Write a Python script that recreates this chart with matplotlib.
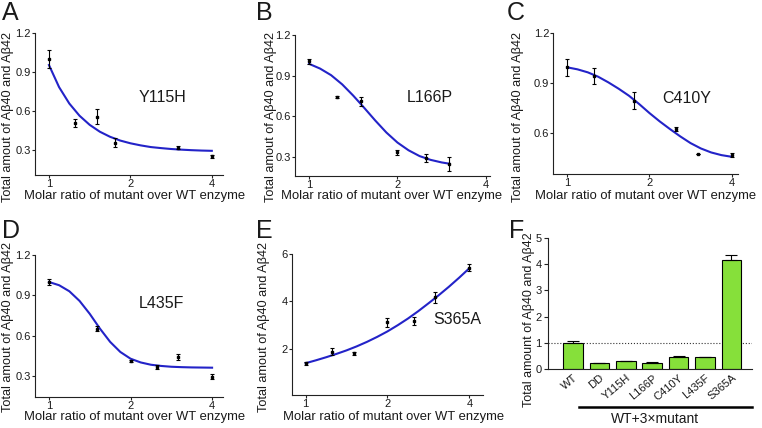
import matplotlib
matplotlib.use("Agg")
import matplotlib.pyplot as plt
from matplotlib.lines import Line2D

plt.rcParams["font.family"] = ["Liberation Sans", "DejaVu Sans"]

W, H = 762, 428

# ── DATA ───────────────────────────────────────────────────
# puntos de la curva ajustada, leídos cada 1/8 de octava (1 ... 4)
fit_x = [1.0, 1.09, 1.189, 1.297, 1.414, 1.542, 1.682, 1.834, 2.0,
         2.181, 2.378, 2.594, 2.828, 3.084, 3.364, 3.668, 4.0]
fit_x_b = [1.0, 1.09, 1.189, 1.297, 1.414, 1.542, 1.682, 1.834, 2.0,
           2.181, 2.378, 2.594, 2.828, 3.0]

ratio_a = [1, 1.25, 1.5, 1.75, 3, 4]
amount_a = [1.00, 0.51, 0.56, 0.36, 0.32, 0.255]
err_a = [0.068, 0.03, 0.057, 0.032, 0.012, 0.012]
fit_y_a = [0.956, 0.786, 0.660, 0.566, 0.496, 0.443, 0.404, 0.375, 0.354,
           0.338, 0.325, 0.317, 0.310, 0.305, 0.301, 0.298, 0.296]

ratio_b = [1, 1.25, 1.5, 2, 2.5, 3]
amount_b = [1.005, 0.743, 0.711, 0.332, 0.290, 0.245]
err_b = [0.02, 0.008, 0.034, 0.017, 0.028, 0.053]
fit_y_b = [0.987, 0.952, 0.903, 0.835, 0.752, 0.661, 0.567, 0.479, 0.405,
           0.348, 0.305, 0.277, 0.258, 0.249]

ratio_c = [1, 1.25, 1.75, 2.5, 3, 4]
amount_c = [0.996, 0.946, 0.796, 0.626, 0.476, 0.47]
err_c = [0.05, 0.047, 0.052, 0.012, 0.0, 0.012]
fit_y_c = [0.996, 0.984, 0.966, 0.940, 0.906, 0.868, 0.826, 0.776, 0.722,
           0.672, 0.626, 0.582, 0.542, 0.510, 0.486, 0.470, 0.460]

ratio_d = [1, 1.5, 2, 2.5, 3, 4]
amount_d = [0.999, 0.652, 0.412, 0.369, 0.441, 0.295]
err_d = [0.02, 0.02, 0.005, 0.015, 0.02, 0.02]
fit_y_d = [0.999, 0.975, 0.930, 0.858, 0.762, 0.652, 0.553, 0.478, 0.428,
           0.400, 0.383, 0.374, 0.368, 0.365, 0.363, 0.362, 0.361]

ratio_e = [1, 1.25, 1.5, 2, 2.5, 3, 4]
amount_e = [1.40, 1.89, 1.82, 3.12, 3.17, 4.17, 5.43]
err_e = [0.06, 0.14, 0.07, 0.19, 0.18, 0.23, 0.13]
fit_y_e = [1.40, 1.52, 1.65, 1.79, 1.94, 2.11, 2.30, 2.51, 2.74,
           3.00, 3.28, 3.59, 3.92, 4.26, 4.62, 5.00, 5.40]

bar_labels = ["WT", "DD", "Y115H", "L166P", "C410Y", "L435F", "S365A"]
bar_values = [1.0, 0.23, 0.295, 0.23, 0.46, 0.435, 4.15]
bar_errors = [0.07, 0.0, 0.015, 0.04, 0.01, 0.015, 0.2]
# ───────────────────────────────────────────────────────────

TXT = "#1a1a1a"
BLUE = "#2323c8"
GREEN = "#86e03a"
YLAB = "Total amout of A\u03b240 and A\u03b242"
XLAB = "Molar ratio of mutant over WT enzyme"


def rect(l, t, r, b):
    return [l / W, 1 - b / H, (r - l) / W, (b - t) / H]


def fig_text(fig, x, y, s, **kw):
    fig.text(x / W, 1 - y / H, s, color=TXT, **kw)


def estilo(ax):
    for lado in ["top", "right"]:
        ax.spines[lado].set_visible(False)
    for lado in ["left", "bottom"]:
        ax.spines[lado].set_linewidth(0.8)
        ax.spines[lado].set_color("#222222")
    ax.tick_params(direction="out", length=2, width=0.8, labelsize=8,
                   colors="#222222", labelcolor=TXT, pad=1)


def panel_curva(fig, caja, x, y, err, fx, fy, xlim, ylim, yticks, yfmt, nombre, pos_nombre):
    ax = fig.add_axes(rect(*caja))
    ax.set_xscale("log", base=2)
    ax.plot(fx, fy, color=BLUE, lw=1.5, zorder=2)
    ax.errorbar(x, y, yerr=err, fmt="s", ms=1.8, color="black", ecolor="black",
                elinewidth=0.8, capsize=1.6, capthick=0.8, zorder=3)
    ax.set_xlim(*xlim)
    ax.set_ylim(*ylim)
    ax.set_xticks([1, 2, 4])
    ax.set_xticklabels(["1", "2", "4"])
    ax.xaxis.set_minor_locator(matplotlib.ticker.NullLocator())
    ax.set_yticks(yticks)
    ax.set_yticklabels([yfmt.format(v) for v in yticks])
    estilo(ax)
    fig_text(fig, pos_nombre[0], pos_nombre[1], nombre, fontsize=11.5, va="center", ha="left")
    return ax


fig = plt.figure(figsize=(W / 100, H / 100), dpi=100)

yt = [0.3, 0.6, 0.9, 1.2]
panel_curva(fig, (35, 33.3, 223, 175), ratio_a, amount_a, err_a, fit_x, fit_y_a,
            (0.888, 4.40), (0.11, 1.2), yt, "{:.1f}", "Y115H", (139, 97.5))
panel_curva(fig, (295, 35, 490, 175.7), ratio_b, amount_b, err_b, fit_x_b, fit_y_b,
            (0.896, 4.13), (0.16, 1.2), yt, "{:.1f}", "L166P", (407, 98))
panel_curva(fig, (553.3, 33.3, 738, 174.3), ratio_c, amount_c, err_c, fit_x, fit_y_c,
            (0.889, 4.22), (0.355, 1.2), [0.6, 0.9, 1.2], "{:.1f}", "C410Y", (662, 98.3))
panel_curva(fig, (35, 255, 223.3, 396.7), ratio_d, amount_d, err_d, fit_x, fit_y_d,
            (0.888, 4.40), (0.145, 1.2), yt, "{:.1f}", "L435F", (138.5, 303.7))
panel_curva(fig, (292, 254, 483, 395), ratio_e, amount_e, err_e, fit_x, fit_y_e,
            (0.891, 4.49), (0.06, 6), [2, 4, 6], "{:.0f}", "S365A", (433, 320))

# ejes y textos de los paneles de curvas
for (xl, yl), (xx, yx) in [((8.5, 116.5), (134.7, 196)),
                           ((270.7, 116.5), (391.5, 196)),
                           ((518.3, 116.5), (646, 196)),
                           ((8.5, 326.5), (134.7, 417)),
                           ((264, 326.5), (394, 417))]:
    fig_text(fig, xl, yl, YLAB, fontsize=9.2, rotation=90, ha="center", va="center")
    fig_text(fig, xx, yx, XLAB, fontsize=9.4, ha="center", va="center")

# --- Panel F: barras ---
axf = fig.add_axes(rect(548, 238.3, 752, 368.7))
pos = list(range(len(bar_labels)))
axf.bar(pos, bar_values, width=0.74, color=GREEN, edgecolor="black", linewidth=0.8, zorder=2)
axf.errorbar(pos, bar_values, yerr=[[0] * len(bar_errors), bar_errors], fmt="none",
             ecolor="black", elinewidth=0.8, capsize=4, capthick=0.8, zorder=3)
axf.axhline(1, ls=":", color="#333333", lw=0.8, zorder=1)
axf.set_xlim(-0.95, 6.78)
axf.set_ylim(0, 5)
axf.set_yticks([0, 1, 2, 3, 4, 5])
axf.set_xticks(pos)
axf.set_xticklabels(bar_labels, rotation=40, ha="right", rotation_mode="anchor", fontsize=9.3)
estilo(axf)
axf.tick_params(axis="y", length=3, pad=1.5)
axf.tick_params(axis="x", length=0, pad=3)
fig_text(fig, 529, 320, "Total amount of A\u03b240 and A\u03b242", fontsize=9.0,
         rotation=90, ha="center", va="center")
fig.add_artist(Line2D([579 / W, 752 / W], [1 - 407 / H] * 2, color="black", lw=1.8))
fig_text(fig, 655, 419, "WT+3\u00d7mutant", fontsize=10, ha="center", va="center")

# letras de panel
for letra, (x, y) in {"A": (2, 13), "B": (256, 13), "C": (507, 13),
                      "D": (2, 231), "E": (256, 231), "F": (509, 231)}.items():
    fig_text(fig, x, y, letra, fontsize=18, ha="left", va="center")

fig.savefig("out.png", dpi=100)
